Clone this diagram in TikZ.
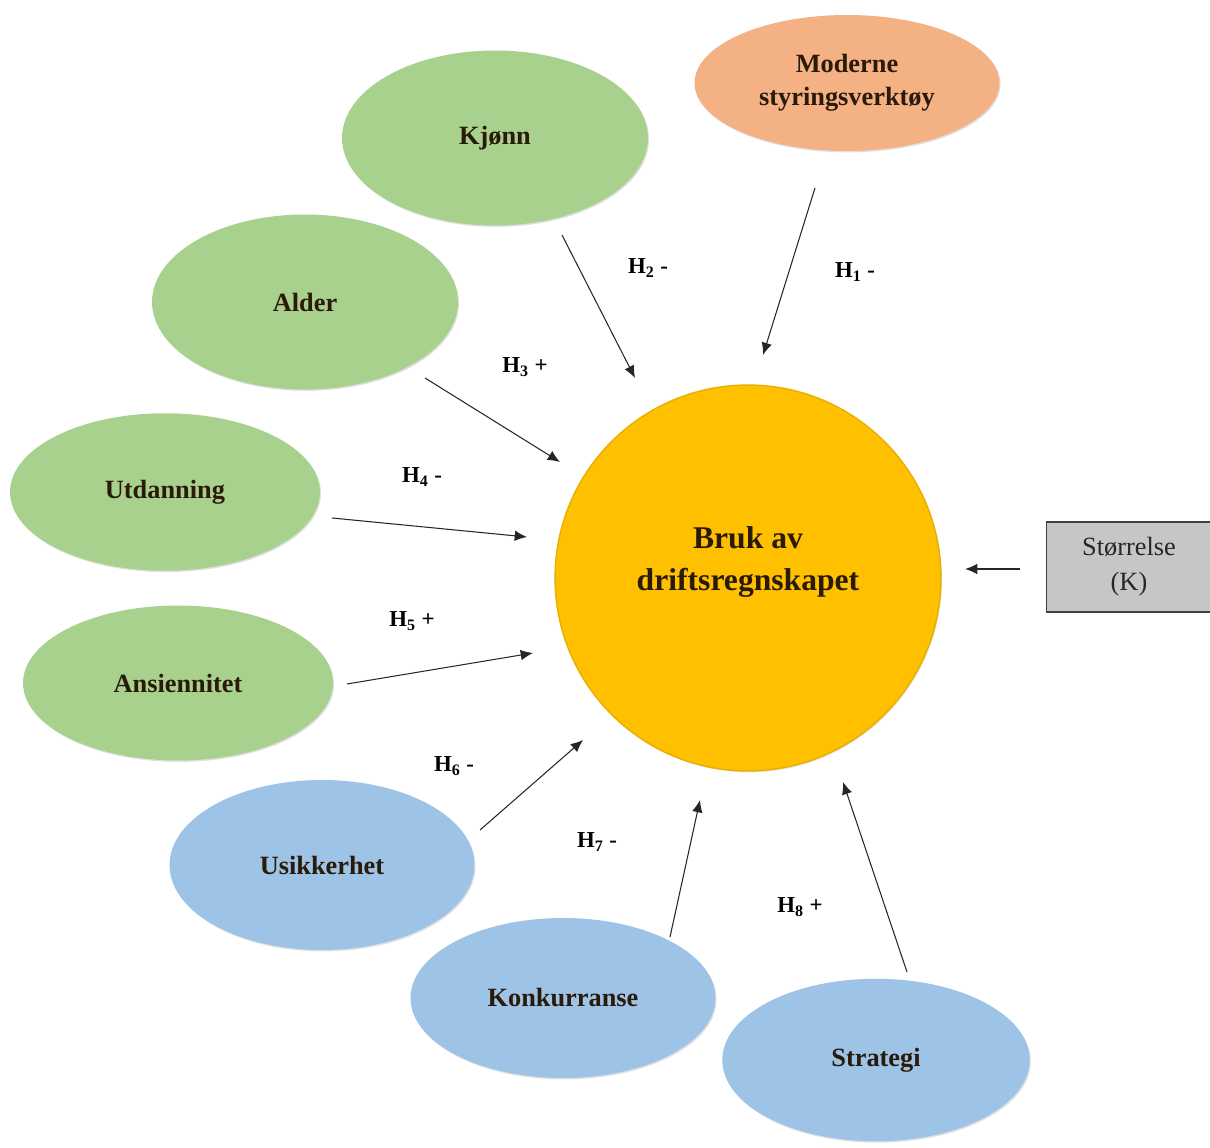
\documentclass[tikz,border=0pt]{standalone}
\usepackage{fontspec}
\setmainfont{Liberation Serif}
\usetikzlibrary{shapes.geometric,arrows.meta,shadows}
\definecolor{greenfill}{HTML}{A9D18E}
\definecolor{orangefill}{HTML}{F4B183}
\definecolor{bluefill}{HTML}{9DC3E6}
\definecolor{goldfill}{HTML}{FFC000}
\definecolor{goldedge}{HTML}{E8AE00}
\definecolor{boxfill}{HTML}{C6C6C6}
\definecolor{txt}{HTML}{2A1A0A}
\tikzset{
  oval/.style={ellipse, inner sep=0pt, draw=none, text=txt,
    font=\bfseries\fontsize{15}{19}\selectfont, align=center,
    drop shadow={opacity=0.25, shadow xshift=0.6pt, shadow yshift=-0.8pt}},
  greenoval/.style={oval, fill=greenfill},
  orangeoval/.style={oval, fill=orangefill},
  blueoval/.style={oval, fill=bluefill},
  hyp/.style={font=\bfseries\fontsize{13}{15}\selectfont, text=black},
  conn/.style={-{Latex[length=7pt,width=6pt]}, line width=0.6pt, draw=black!85}
}
\begin{document}
\begin{tikzpicture}[x=0.02cm,y=-0.02cm]
\useasboundingbox (0,0) rectangle (1210,1148);
% central circle
\node[circle, minimum size=7.72cm, inner sep=0pt, fill=goldfill, draw=goldedge, line width=0.8pt,
  label={[text=txt, font=\bfseries\fontsize{18}{24}\selectfont, align=center, yshift=0.32cm]center:Bruk av\\driftsregnskapet},
  drop shadow={opacity=0.2, shadow xshift=0.6pt, shadow yshift=-0.8pt}]
  (c) at (748,578) {};
% ovals
\node[orangeoval, minimum width=6.1cm, minimum height=2.72cm] (mod) at (847,83) {Moderne\\styringsverktøy};
\node[greenoval, minimum width=6.12cm, minimum height=3.5cm] (kj) at (495,138) {Kjønn};
\node[greenoval, minimum width=6.12cm, minimum height=3.5cm] (al) at (305,302) {Alder};
\node[greenoval, minimum width=6.2cm, minimum height=3.15cm] (ut) at (165,492) {Utdanning};
\node[greenoval, minimum width=6.2cm, minimum height=3.1cm] (an) at (178,683) {Ansiennitet};
\node[blueoval, minimum width=6.1cm, minimum height=3.4cm] (us) at (322,865) {Usikkerhet};
\node[blueoval, minimum width=6.1cm, minimum height=3.2cm] (ko) at (563,998) {Konkurranse};
\node[blueoval, minimum width=6.15cm, minimum height=3.25cm] (st) at (876,1060) {Strategi};
% control box
\node[rectangle, fill=boxfill, draw=black!75, line width=0.8pt, minimum width=3.3cm, minimum height=1.8cm,
  align=center, font=\fontsize{15}{20}\selectfont, text=black!85] (k) at (1129,567) {Størrelse\\(K)};
% connector endpoints
\coordinate (a1s) at (815,188); \coordinate (a1e) at (763,355);
\coordinate (a2s) at (562,235); \coordinate (a2e) at (635,378);
\coordinate (a3s) at (425,378); \coordinate (a3e) at (560,462);
\coordinate (a4s) at (332,518); \coordinate (a4e) at (527,537);
\coordinate (a5s) at (347,684); \coordinate (a5e) at (533,653);
\coordinate (a6s) at (480,830); \coordinate (a6e) at (583,740);
\coordinate (a7s) at (670,937); \coordinate (a7e) at (700,800);
\coordinate (a8s) at (907,972); \coordinate (a8e) at (843,782);
\coordinate (aks) at (1020,569); \coordinate (ake) at (965,569);
\draw[conn] (a1s) -- (a1e);
\draw[conn] (a2s) -- (a2e);
\draw[conn] (a3s) -- (a3e);
\draw[conn] (a4s) -- (a4e);
\draw[conn] (a5s) -- (a5e);
\draw[conn] (a6s) -- (a6e);
\draw[conn] (a7s) -- (a7e);
\draw[conn] (a8s) -- (a8e);
\draw[conn] (aks) -- (ake);
% labels
\node[hyp] (h1) at (855,272) {H\textsubscript{1} -};
\node[hyp] (h2) at (648,268) {H\textsubscript{2} -};
\node[hyp] (h3) at (525,367) {H\textsubscript{3} +};
\node[hyp] (h4) at (422,477) {H\textsubscript{4} -};
\node[hyp] (h5) at (412,621) {H\textsubscript{5} +};
\node[hyp] (h6) at (454,766) {H\textsubscript{6} -};
\node[hyp] (h7) at (597,842) {H\textsubscript{7} -};
\node[hyp] (h8) at (800,907) {H\textsubscript{8} +};
\end{tikzpicture}
\end{document}
